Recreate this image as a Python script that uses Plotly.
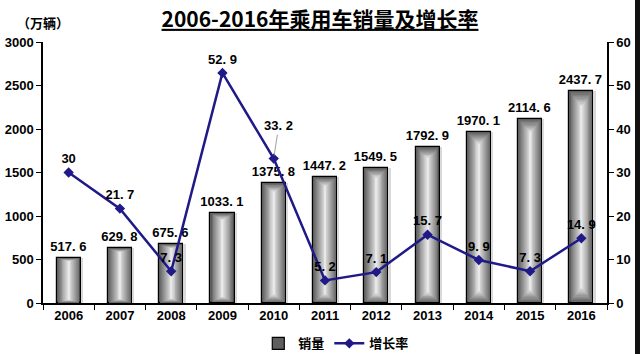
import plotly.graph_objects as go

years = ["2006", "2007", "2008", "2009", "2010", "2011", "2012", "2013", "2014", "2015", "2016"]
sales = [517.6, 629.8, 675.6, 1033.1, 1375.8, 1447.2, 1549.5, 1792.9, 1970.1, 2114.6, 2437.7]
growth = [30, 21.7, 7.3, 52.9, 33.2, 5.2, 7.1, 15.7, 9.9, 7.3, 14.9]
leader_idx = 4  # label drawn with a leader line (2010)

FONT = "Liberation Sans, Arial, Noto Sans CJK SC, sans-serif"
CJK = "Noto Sans CJK SC, sans-serif"

def fmt(v):
    s = f"{v:.1f}" if v != int(v) else f"{int(v)}"
    return s.replace(".", ". ")

fig = go.Figure()

# soft shadow
fig.add_trace(go.Bar(x=years, y=sales, width=0.5, offset=-0.22,
                     marker=dict(color="rgba(0,0,0,0.15)", line=dict(width=0)),
                     showlegend=False, hoverinfo="skip"))

# main bar with outline and label
fig.add_trace(go.Bar(x=years, y=sales, width=0.47, name="销量",
                     marker=dict(color="#5e5e5e", line=dict(color="black", width=1.2)),
                     text=[fmt(v) for v in sales], textposition="outside", constraintext="none",
                     textfont=dict(family=FONT, size=13, color="black", weight="bold"),
                     cliponaxis=False))

n = 12
for i in range(n):
    t = (i + 1) / n
    w = 0.44 * (1 - t) + 0.02
    g = int(0x60 + (0xe8 - 0x60) * t)
    c = f"#{g:02x}{g:02x}{g:02x}"
    f = 0.006 * (i + 1)
    fig.add_trace(go.Bar(x=years, y=[v * (1 - 2 * f) for v in sales], base=[v * f for v in sales], width=w,
                         marker=dict(color=c, line=dict(width=0)), showlegend=False, hoverinfo="skip"))

labels = [fmt(v) if i != leader_idx else "" for i, v in enumerate(growth)]
fig.add_trace(go.Scatter(x=years, y=growth, name="增长率", yaxis="y2", mode="lines+markers+text",
                         line=dict(color="#1f1a87", width=2.5),
                         marker=dict(symbol="diamond", size=8, color="#1f1a87"),
                         text=labels, textposition="top center",
                         textfont=dict(family=FONT, size=13, color="black", weight="bold"),
                         cliponaxis=False))

tickfont = dict(family=FONT, size=13, color="black", weight="bold")
fig.update_layout(
    width=640, height=354,
    margin=dict(l=43, r=33, t=42, b=51, autoexpand=False),
    paper_bgcolor="white", plot_bgcolor="white",
    barmode="overlay", bargap=0,
    title=dict(text="2006-2016年乘用车销量及增长率", x=0.5, xanchor="center",
               yref="container", y=0.945, yanchor="middle",
               font=dict(family=CJK, size=21, color="black", weight="bold", lineposition="under")),
    xaxis=dict(type="category", range=[-0.5, len(years) - 0.5], showline=True, linecolor="black", linewidth=1.5,
               ticks="outside", tickcolor="black",
               tickson="boundaries", ticklen=5, showgrid=False, tickfont=tickfont),
    yaxis=dict(range=[0, 3000], dtick=500, showline=True, linecolor="black", linewidth=1.5, ticks="outside",
               tickcolor="black", ticklen=5, showgrid=False, zeroline=False, tickfont=tickfont),
    yaxis2=dict(range=[0, 60], dtick=10, overlaying="y", side="right", showline=True, linecolor="black",
                linewidth=1.5, ticks="outside", tickcolor="black", ticklen=5, showgrid=False, zeroline=False,
                tickfont=tickfont),
    legend=dict(orientation="h", x=0.52, xanchor="center", yref="container", y=0.03, yanchor="middle",
                font=dict(family=CJK, size=13, color="black", weight="bold")),
    annotations=[
        dict(text="（万辆）", xref="paper", x=0.0, xanchor="center",
             yref="paper", y=1.075, yanchor="middle", showarrow=False,
             font=dict(family=CJK, size=13, color="black", weight="bold")),
        dict(text=fmt(growth[leader_idx]), x=leader_idx, y=growth[leader_idx], xref="x", yref="y2",
             showarrow=True, arrowhead=0, arrowwidth=0.8, arrowcolor="#888", ax=5, ay=-33,
             standoff=3, font=dict(family=FONT, size=13, color="black", weight="bold")),
        # dark frame strip along the right edge of the image
        dict(text=" ", xref="paper", x=1.06, xanchor="right", yref="paper", y=0.5, yanchor="middle",
             showarrow=False, bgcolor="#111", width=6, height=400, borderpad=0, borderwidth=0,
             font=dict(size=10, color="#111")),
    ],
    showlegend=True,
)

fig.write_html("out.html")
